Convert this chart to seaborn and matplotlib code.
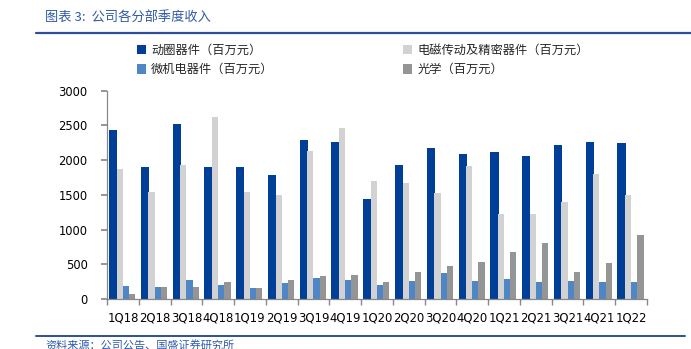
import numpy as np
import pandas as pd
import matplotlib
matplotlib.use("Agg")
import matplotlib.pyplot as plt
from matplotlib.patches import Patch
from matplotlib.lines import Line2D
from matplotlib.ticker import FixedLocator
import seaborn as sns

quarters = ["1Q18", "2Q18", "3Q18", "4Q18", "1Q19", "2Q19", "3Q19", "4Q19", "1Q20",
            "2Q20", "3Q20", "4Q20", "1Q21", "2Q21", "3Q21", "4Q21", "1Q22"]
dynamic = [2440, 1903, 2517, 1900, 1900, 1783, 2295, 2262, 1442,
           1927, 2180, 2090, 2114, 2061, 2219, 2267, 2248]
electromag = [1870, 1539, 1931, 2626, 1539, 1500, 2128, 2463, 1701,
              1668, 1524, 1921, 1231, 1222, 1395, 1798, 1505]
mems = [181, 167, 268, 206, 157, 225, 302, 268, 196,
        259, 374, 259, 282, 244, 259, 244, 244]
optics = [72, 170, 174, 244, 152, 268, 325, 340, 244,
          388, 479, 536, 676, 810, 388, 518, 925]

series_names = ["动圈器件（百万元）", "电磁传动及精密器件（百万元）",
                "微机电器件（百万元）", "光学（百万元）"]
series_vals = [dynamic, electromag, mems, optics]
colors = ["#003f98", "#d2d2d2", "#4f86c6", "#959595"]

rows = []
for name, vals in zip(series_names, series_vals):
    for q, v in zip(quarters, vals):
        rows.append({"季度": q, "系列": name, "值": v})
df = pd.DataFrame(rows)

sns.set_theme(style="white")
plt.rcParams["font.family"] = ["DejaVu Sans", "Noto Sans CJK SC"]

fig = plt.figure(figsize=(6.91, 3.49), dpi=100)
ax = fig.add_axes([107/691, 1 - 299/349, (647-107)/691, (299-90.7)/349])

sns.barplot(data=df, x="季度", y="值", hue="系列", hue_order=series_names,
            palette=colors, width=0.78, ax=ax, legend=False, saturation=1,
            linewidth=0, edgecolor="none")

# widen the dark series bars slightly (drawn first, sits beneath neighbours)
n = len(quarters)
for p in ax.patches[:n]:
    c = p.get_x() + p.get_width() / 2
    p.set_width(0.26)
    p.set_x(c - 0.14)

ax.set_xlim(-0.5, n - 0.5)
ax.set_ylim(0, 3000)
ax.set_yticks([0, 500, 1000, 1500, 2000, 2500, 3000])
ax.set_xlabel("")
ax.set_ylabel("")
for s in ["top", "right"]:
    ax.spines[s].set_visible(False)
for s in ["left", "bottom"]:
    ax.spines[s].set_color("#888888")
    ax.spines[s].set_linewidth(0.9)
ax.tick_params(axis="y", which="major", left=True, length=4, color="#888888",
               labelsize=8.3, pad=10, labelcolor="black")
ax.tick_params(axis="x", which="major", length=0, labelsize=8.4, pad=9, labelcolor="black")
ax.xaxis.set_minor_locator(FixedLocator(np.arange(-0.5, n, 1.0)))
ax.tick_params(axis="x", which="minor", bottom=True, length=4, color="#888888")
ax.grid(False)

# legend
handles = [Patch(facecolor=c, edgecolor="none") for c in colors]
order = [0, 2, 1, 3]
fig.legend([handles[i] for i in order], [series_names[i] for i in order],
           ncol=2, loc="upper left", bbox_to_anchor=(126/691, 1 - 33/349),
           frameon=False, handlelength=0.75, handleheight=0.8,
           handletextpad=0.4, columnspacing=10.6, labelspacing=0.5,
           prop={"family": ["Noto Sans CJK SC"], "size": 8.8})

# title and footer
title_color = "#2e5aa8"
fig.text(45/691, 1 - 18/349, "图表 3:  公司各分部季度收入", color=title_color,
         fontsize=9.5, style="italic", va="center", ha="left",
         family=["Noto Sans CJK SC", "DejaVu Sans"])
fig.add_artist(Line2D([36/691, 1.0], [1 - 33/349, 1 - 33/349],
                      transform=fig.transFigure, color="#2e4f97", linewidth=1.6))
fig.add_artist(Line2D([36/691, 685/691], [1 - 336/349, 1 - 336/349],
                      transform=fig.transFigure, color="#2e4f97", linewidth=1.4))
fig.text(45/691, 1 - 345/349, "资料来源：公司公告、国盛证券研究所", color=title_color,
         fontsize=8, style="italic", va="center", ha="left",
         family=["Noto Sans CJK SC", "DejaVu Sans"])

fig.savefig("out.png", dpi=100)
